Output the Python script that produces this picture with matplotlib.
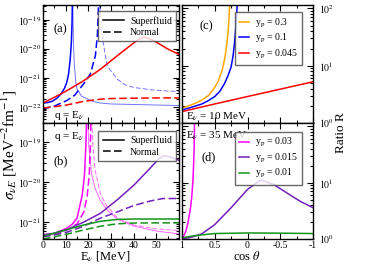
import numpy as np
import matplotlib
matplotlib.use("Agg")
import matplotlib.pyplot as plt
from matplotlib.ticker import LogLocator, MultipleLocator, NullFormatter, FixedLocator, FixedFormatter
from matplotlib.lines import Line2D

plt.rcParams['font.family'] = ['Liberation Serif', 'DejaVu Serif']
plt.rcParams['mathtext.fontset'] = 'stix'
plt.rcParams['axes.unicode_minus'] = False

# ---------------- data: panel (a), q = E_nu ----------------
a_blue_sf_E = [0, 2, 4, 6, 8, 9.5, 10.5, 11.3, 12, 12.5, 12.8, 13.0]
a_blue_sf_s = [1.4e-22, 1.45e-22, 1.6e-22, 2.0e-22, 2.9e-22, 4.5e-22, 7.2e-22, 1.4e-21, 4.4e-21, 1.6e-20, 7e-20, 6e-19]
a_blue_sf2_E = [13.1, 13.4, 13.8, 14.5, 15, 17, 19.4, 22, 25.3, 30, 40, 50, 60]
a_blue_sf2_s = [6e-19, 2e-20, 3e-21, 7e-22, 4.3e-22, 2.4e-22, 1.95e-22, 1.6e-22, 1.4e-22, 1.3e-22, 1.25e-22, 1.2e-22, 1.15e-22]
a_blue_n_E = [0, 5, 10.5, 14, 17.9, 20.9, 23.1, 24.0, 24.4, 24.6]
a_blue_n_s = [8.9e-23, 1.1e-22, 1.7e-22, 2.6e-22, 6.3e-22, 1.4e-21, 5.8e-21, 3e-20, 2e-19, 6e-19]
a_blue_n2_E = [24.8, 25.3, 26, 28.3, 32.7, 36, 40, 47.5, 55, 60]
a_blue_n2_s = [6e-19, 1.5e-19, 3e-20, 2.6e-21, 9.3e-22, 6e-22, 4.8e-22, 4e-22, 3.6e-22, 3.5e-22]
a_red_sf_E = [0, 5, 10.5, 17.9, 25.3, 32.7, 40, 42, 44.5, 46.5, 49, 55, 60]
a_red_sf_s = [1.4e-22, 2.2e-22, 3.7e-22, 8.1e-22, 2.0e-21, 5.8e-21, 1.6e-20, 2.1e-20, 2.5e-20, 2.3e-20, 1.9e-20, 1.0e-20, 6.5e-21]
a_red_n_E = [0, 5, 10.5, 17.9, 25.3, 30, 40, 50, 60]
a_red_n_s = [9.3e-23, 1.05e-22, 1.2e-22, 1.6e-22, 1.9e-22, 2.0e-22, 2.05e-22, 2.1e-22, 2.1e-22]

# ---------------- data: panel (b), q = E_nu ----------------
b_mag_sf_E = [0, 5, 10.5, 13, 15, 17.3, 18.3, 18.9, 19.3]
b_mag_sf_s = [4.9e-22, 5.2e-22, 7.1e-22, 9e-22, 1.26e-21, 4.7e-21, 1.5e-20, 8e-20, 5e-19]
b_mag_sf2_E = [19.6, 20.2, 21.5, 23, 25.3, 28, 32.7, 40, 50, 60]
b_mag_sf2_s = [5e-19, 8e-20, 1.5e-20, 7e-21, 3.5e-21, 2.1e-21, 1.2e-21, 8e-22, 6e-22, 5.1e-22]
b_mag_n_E = [0, 5, 10.5, 15, 18, 19.5, 20.4, 20.9, 21.2]
b_mag_n_s = [4.6e-22, 4.9e-22, 6.3e-22, 9e-22, 1.8e-21, 4.5e-21, 1.5e-20, 8e-20, 5e-19]
b_mag_n2_E = [21.4, 22, 23, 25.3, 28, 32.7, 40, 50, 60]
b_mag_n2_s = [5e-19, 8e-20, 2e-20, 5.2e-21, 2.6e-21, 1.3e-21, 8.5e-22, 6.8e-22, 6.2e-22]
b_pur_sf_E = [0, 5, 10.5, 17.9, 25.3, 32.7, 40, 47.5, 51, 53.4, 56.4, 60]
b_pur_sf_s = [4.7e-22, 5.3e-22, 6.5e-22, 1.0e-21, 1.66e-21, 3.6e-21, 8.3e-21, 2.3e-20, 3.8e-20, 4.6e-20, 4.2e-20, 3.5e-20]
b_pur_n_E = [0, 5, 10.5, 17.9, 25.3, 32.7, 40, 47.5, 53, 60]
b_pur_n_s = [4.3e-22, 4.8e-22, 5.6e-22, 7.9e-22, 1.26e-21, 1.8e-21, 2.6e-21, 3.4e-21, 3.9e-21, 3.9e-21]
b_grn_sf_E = [0, 5, 10.5, 17.9, 25.3, 32.7, 40, 50, 60]
b_grn_sf_s = [4.5e-22, 5.3e-22, 6.5e-22, 8.5e-22, 1.05e-21, 1.17e-21, 1.2e-21, 1.2e-21, 1.2e-21]
b_grn_n_E = [0, 5, 10.5, 17.9, 25.3, 32.7, 40, 50, 60]
b_grn_n_s = [3.8e-22, 4.3e-22, 5.0e-22, 6.4e-22, 7.9e-22, 9.1e-22, 9.5e-22, 9.6e-22, 9.6e-22]

# ---------------- data: panel (c), E_nu = 10 MeV ----------------
c_org_cos = [1, 0.9, 0.8, 0.7, 0.6, 0.55, 0.5, 0.45, 0.4, 0.37, 0.34, 0.32, 0.30, 0.285, 0.27]
c_org_R = [1.8, 2.0, 2.2, 2.5, 3.0, 3.5, 4.2, 5.3, 7.5, 10, 15, 22, 35, 60, 130]
c_blu_cos = [1, 0.9, 0.8, 0.7, 0.6, 0.5, 0.42, 0.35, 0.3, 0.25, 0.22, 0.2, 0.18, 0.165, 0.155]
c_blu_R = [1.68, 1.82, 1.97, 2.14, 2.45, 2.9, 3.6, 4.9, 6.6, 9.5, 15, 24, 45, 80, 130]
c_red_cos = [1, 0.5, 0, -0.5, -1]
c_red_R = [1.58, 2.15, 2.9, 3.9, 5.25]

# ---------------- data: panel (d), E_nu = 35 MeV ----------------
d_mag_cos = [1, 0.97, 0.94, 0.91, 0.89, 0.87, 0.85, 0.835, 0.825, 0.815, 0.808]
d_mag_R = [1.0, 1.15, 1.4, 1.9, 2.6, 3.6, 5.8, 10, 18, 40, 130]
d_pur_cos = [1, 0.85, 0.7, 0.5, 0.25, 0, -0.2, -0.4, -0.6, -0.8, -1]
d_pur_R = [1.0, 1.08, 1.23, 1.8, 3.6, 7.6, 11.2, 9.3, 6.6, 4.7, 3.6]
d_grn_cos = [1, 0.8, 0.5, 0, -0.5, -1]
d_grn_R = [1.05, 1.15, 1.25, 1.28, 1.27, 1.25]

leg_ab_labels = ['Superfluid', 'Normal']
leg_c_labels = ['y$_\\mathrm{p}$ = 0.3', 'y$_\\mathrm{p}$ = 0.1', 'y$_\\mathrm{p}$ = 0.045']
leg_d_labels = ['y$_\\mathrm{p}$ = 0.03', 'y$_\\mathrm{p}$ = 0.015', 'y$_\\mathrm{p}$ = 0.01']

BLUE = '#0000ff'
RED = '#ff0000'
ORANGE = '#ffa500'
MAG = '#ff00ff'
PUR = '#7221bc'
GRN = '#13951a'
DASH = (0, (5, 2.2))
LW = 1.1

fig = plt.figure(figsize=(3.74, 2.65), dpi=100)
W, H = 374, 265
def box(x0, x1, y0, y1):
    return [x0 / W, 1 - y1 / H, (x1 - x0) / W, (y1 - y0) / H]

ax_a = fig.add_axes(box(43, 179, 5, 123))
ax_b = fig.add_axes(box(43, 179, 123, 239))
ax_c = fig.add_axes(box(182, 313, 5, 123))
ax_d = fig.add_axes(box(182, 313, 123, 239))

# panel a
ax_a.plot(a_blue_sf_E, a_blue_sf_s, color=BLUE, lw=LW)
ax_a.plot(a_blue_sf2_E, a_blue_sf2_s, color=BLUE, lw=0.7, alpha=0.55)
ax_a.plot(a_blue_n_E, a_blue_n_s, color=BLUE, lw=LW, ls=DASH)
ax_a.plot(a_blue_n2_E, a_blue_n2_s, color=BLUE, lw=0.7, alpha=0.55, ls=DASH)
ax_a.plot(a_red_sf_E, a_red_sf_s, color=RED, lw=LW)
ax_a.plot(a_red_n_E, a_red_n_s, color=RED, lw=LW, ls=DASH)
ax_a.set_ylim(2.9e-23, 3.2e-19)

# panel b
ax_b.plot(b_mag_sf_E, b_mag_sf_s, color=MAG, lw=LW)
ax_b.plot(b_mag_sf2_E, b_mag_sf2_s, color=MAG, lw=0.7, alpha=0.6)
ax_b.plot(b_mag_n_E, b_mag_n_s, color=MAG, lw=LW, ls=DASH)
ax_b.plot(b_mag_n2_E, b_mag_n2_s, color=MAG, lw=0.7, alpha=0.6, ls=DASH)
ax_b.plot(b_pur_sf_E, b_pur_sf_s, color=PUR, lw=LW)
ax_b.plot(b_pur_n_E, b_pur_n_s, color=PUR, lw=LW, ls=DASH)
ax_b.plot(b_grn_sf_E, b_grn_sf_s, color=GRN, lw=LW)
ax_b.plot(b_grn_n_E, b_grn_n_s, color=GRN, lw=LW, ls=DASH)
ax_b.set_ylim(3.8e-22, 3e-19)

for ax in (ax_a, ax_b):
    ax.set_yscale('log')
    ax.set_xlim(0, 60)
    ax.xaxis.set_major_locator(MultipleLocator(10))
    ax.xaxis.set_minor_locator(MultipleLocator(5))
    ax.yaxis.set_minor_locator(LogLocator(base=10, subs=np.arange(2, 10), numticks=20))
    ax.yaxis.set_minor_formatter(NullFormatter())
ax_a.yaxis.set_major_locator(FixedLocator([1e-22, 1e-21, 1e-20, 1e-19]))
ax_a.yaxis.set_major_formatter(FixedFormatter(['$10^{-22}$', '$10^{-21}$', '$10^{-20}$', '$10^{-19}$']))
ax_b.yaxis.set_major_locator(FixedLocator([1e-21, 1e-20, 1e-19]))
ax_b.yaxis.set_major_formatter(FixedFormatter(['$10^{-21}$', '$10^{-20}$', '$10^{-19}$']))
ax_a.set_xticklabels([])
ax_b.xaxis.set_major_locator(FixedLocator([0, 10, 20, 30, 40, 50, 60]))
ax_b.xaxis.set_major_formatter(FixedFormatter(['0', '10', '20', '30', '40', '50', '']))

# panel c
ax_c.plot(c_org_cos, c_org_R, color=ORANGE, lw=LW)
ax_c.plot(c_blu_cos, c_blu_R, color=BLUE, lw=LW)
ax_c.plot(c_red_cos, c_red_R, color=RED, lw=LW)
# panel d
ax_d.plot(d_mag_cos, d_mag_R, color=MAG, lw=LW)
ax_d.plot(d_pur_cos, d_pur_R, color=PUR, lw=LW)
ax_d.plot(d_grn_cos, d_grn_R, color=GRN, lw=LW)

for ax in (ax_c, ax_d):
    ax.set_yscale('log')
    ax.set_xlim(1, -1)
    ax.set_ylim(1, 115)
    ax.xaxis.set_major_locator(MultipleLocator(0.5))
    ax.xaxis.set_minor_locator(MultipleLocator(0.25))
    ax.yaxis.set_minor_locator(LogLocator(base=10, subs=np.arange(2, 10), numticks=20))
    ax.yaxis.set_minor_formatter(NullFormatter())
    ax.yaxis.tick_right()
ax_c.yaxis.set_major_locator(FixedLocator([1, 10, 100]))
ax_c.yaxis.set_major_formatter(FixedFormatter(['$10^{0}$', '$10^{1}$', '$10^{2}$']))
ax_d.yaxis.set_major_locator(FixedLocator([1, 10, 100]))
ax_d.yaxis.set_major_formatter(FixedFormatter(['$10^{0}$', '$10^{1}$', '']))
ax_c.set_xticklabels([])
ax_d.xaxis.set_major_locator(FixedLocator([1, 0.5, 0, -0.5, -1]))
ax_d.xaxis.set_major_formatter(FixedFormatter(['1', '0.5', '0', '-0.5', '-1']))

for ax in (ax_a, ax_b, ax_c, ax_d):
    ax.tick_params(which='both', direction='in', top=True, right=True, left=True, bottom=True,
                   labelsize=7, pad=1.5, width=0.8)
    ax.tick_params(which='major', length=4)
    ax.tick_params(which='minor', length=2)
    for s in ax.spines.values():
        s.set_linewidth(1.0)
for ax in (ax_c, ax_d):
    ax.tick_params(which='both', labelleft=False, labelright=True)
    ax.tick_params(axis='y', which='major', pad=4)

# legends
def make_legend(ax, handles, labels, anchor, hl):
    lg = ax.legend(handles, labels, loc='upper right', bbox_to_anchor=anchor, borderaxespad=0,
                   fontsize=7, frameon=True, fancybox=False, handlelength=hl, handletextpad=0.6,
                   labelspacing=0.25, borderpad=0.45)
    lg.get_frame().set_edgecolor('#444444')
    lg.get_frame().set_linewidth(1.0)
    return lg

hs = [Line2D([], [], color='k', lw=1.1), Line2D([], [], color='k', lw=1.1, ls=DASH)]
make_legend(ax_a, hs, leg_ab_labels, (0.98, 0.945), 2.2)
make_legend(ax_b, hs, leg_ab_labels, (0.98, 0.93), 2.2)
make_legend(ax_c, [Line2D([], [], color=c, lw=1.1) for c in (ORANGE, BLUE, RED)], leg_c_labels, (0.916, 0.94), 1.0)
make_legend(ax_d, [Line2D([], [], color=c, lw=1.1) for c in (MAG, PUR, GRN)], leg_d_labels, (0.916, 0.923), 1.0)

# annotations
tfs = 8
ax_a.text(0.08, 0.77, '(a)', transform=ax_a.transAxes, fontsize=9)
ax_a.text(0.08, 0.04, 'q = E$_\\nu$', transform=ax_a.transAxes, fontsize=tfs)
ax_b.text(0.08, 0.64, '(b)', transform=ax_b.transAxes, fontsize=9)
ax_b.text(0.08, 0.86, 'q = E$_\\nu$', transform=ax_b.transAxes, fontsize=tfs)
ax_c.text(0.13, 0.79, '(c)', transform=ax_c.transAxes, fontsize=9)
ax_c.text(0.03, 0.03, 'E$_\\nu$ = 10 MeV', transform=ax_c.transAxes, fontsize=tfs)
ax_d.text(0.15, 0.68, '(d)', transform=ax_d.transAxes, fontsize=9)
ax_d.text(0.03, 0.87, 'E$_\\nu$ = 35 MeV', transform=ax_d.transAxes, fontsize=tfs)

fig.text(9 / W, 1 - 145 / H, '$\\sigma_{\\nu E}$ [MeV$^{-2}$fm$^{-1}$]', rotation=90,
         ha='center', va='center', fontsize=11)
fig.text(341 / W, 1 - 133 / H, 'Ratio R', rotation=90, ha='center', va='center', fontsize=9.5)
fig.text(105 / W, 1.5 / H, 'E$_\\nu$ [MeV]', ha='center', va='bottom', fontsize=9)
fig.text(247 / W, 1.5 / H, 'cos $\\theta$', ha='center', va='bottom', fontsize=9)

fig.savefig('out.png', dpi=100)
